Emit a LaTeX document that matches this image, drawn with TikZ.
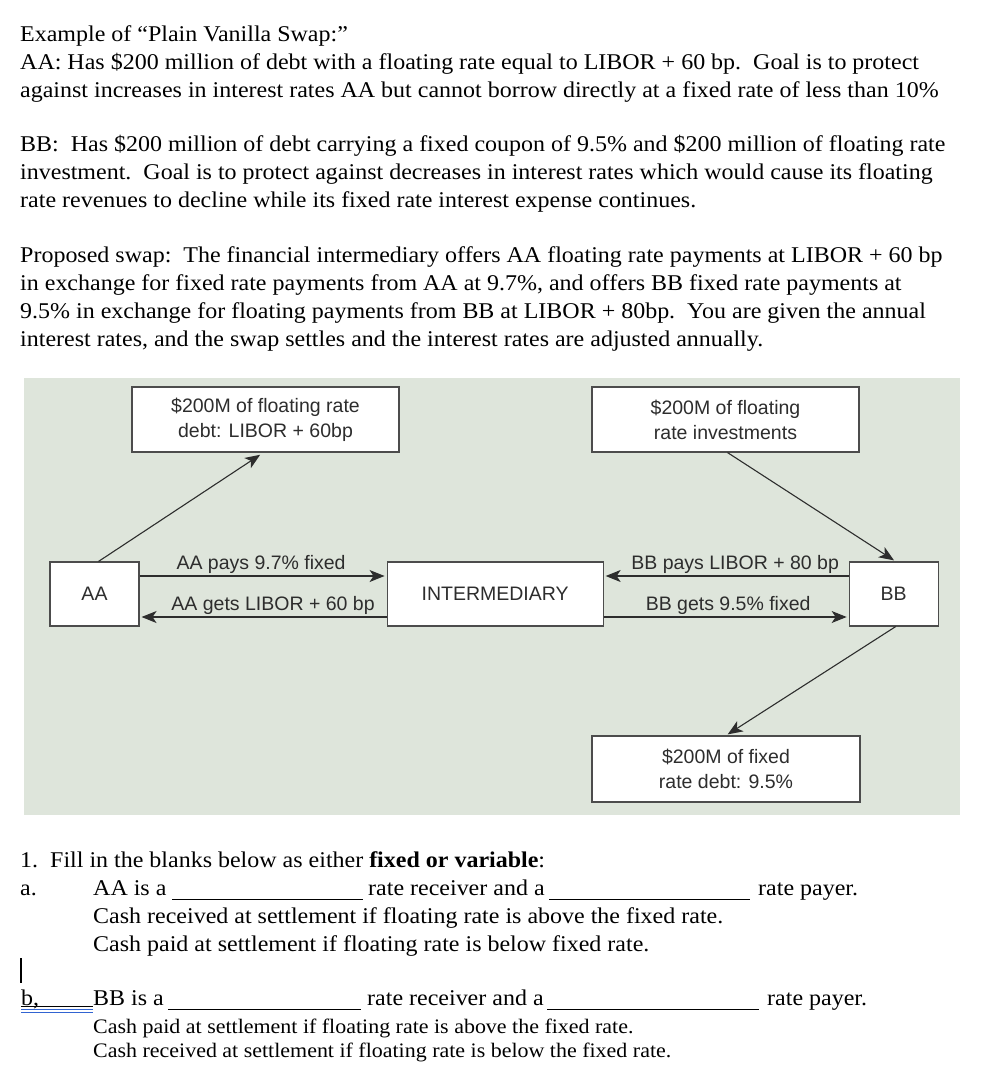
\documentclass[tikz,border=0pt]{standalone}
\usepackage{fontspec}
\setmainfont[FakeStretch=1.066]{Liberation Serif}
\newfontfamily\diagfont{Liberation Sans}
\usepackage{tikz}
\usetikzlibrary{arrows.meta,positioning}
\definecolor{swpbg}{RGB}{222,229,219}
\definecolor{swpline}{RGB}{45,45,45}
\definecolor{swpblue}{RGB}{50,100,210}

\begin{document}
\begin{tikzpicture}[x=1pt,y=-1pt,
    para/.style={anchor=base west,inner sep=0pt,align=left,font=\fontsize{22.5}{28}\selectfont},
    qtext/.style={anchor=base west,inner sep=0pt,font=\fontsize{22.5}{28}\selectfont},
    smalltext/.style={anchor=base west,inner sep=0pt,align=left,font=\fontsize{20.6}{24}\selectfont},
    box/.style={draw=swpline!85,fill=white,line width=1.1pt,inner sep=2pt,align=center,
      font=\diagfont\fontsize{19.5}{25}\selectfont,text=swpline},
    lbl/.style={font=\diagfont\fontsize{19.5}{24}\selectfont,text=swpline,inner sep=2pt},
    arr/.style={-{Stealth[length=15pt,width=12pt,inset=4pt]},swpline,line width=1.1pt,shorten >=2pt}]
  \useasboundingbox (0,0) rectangle (996,1082);

  % text above the diagram (anchored at the last baseline)
  \node[para] (intro) at (20,97) {Example of “Plain Vanilla Swap:”\\
    AA: Has \$200 million of debt with a floating rate equal to LIBOR + 60 bp.\ \ Goal is to protect\\
    against increases in interest rates AA but cannot borrow directly at a fixed rate of less than 10\%};
  \node[para] (bbtext) at (20,207) {BB:\ \ Has \$200 million of debt carrying a fixed coupon of 9.5\% and \$200 million of floating rate\\
    investment.\ \ Goal is to protect against decreases in interest rates which would cause its floating\\
    rate revenues to decline while its fixed rate interest expense continues.};
  \node[para] (proposal) at (20,346) {Proposed swap:\ \ The financial intermediary offers AA floating rate payments at LIBOR + 60 bp\\
    in exchange for fixed rate payments from AA at 9.7\%, and offers BB fixed rate payments at\\
    9.5\% in exchange for floating payments from BB at LIBOR + 80bp.\ \ You are given the annual\\
    interest rates, and the swap settles and the interest rates are adjusted annually.};

  % swap diagram
  \fill[swpbg] (24,378) rectangle (960,815);
  \node[box,minimum width=89pt,minimum height=64pt] (aa) at (94.5,594) {AA};
  \node[box,minimum width=216pt,minimum height=64pt,right=247pt of aa] (mid) {INTERMEDIARY};
  \node[box,minimum width=89pt,minimum height=64pt,right=245pt of mid] (bb) {BB};
  \node[box,minimum width=267pt,minimum height=65pt] (fltdebt) at (265.5,419.5) {\$200M of floating rate\\debt: LIBOR + 60bp};
  \node[box,minimum width=267pt,minimum height=65pt] (fltinv) at (725.5,419.5) {\$200M of floating\\rate investments};
  \node[box,minimum width=268pt,minimum height=66pt] (fixdebt) at (726,769) {\$200M of fixed\\rate debt: 9.5\%};

  \draw[arr,shorten >=4pt] ([xshift=4pt]aa.north) -- ([xshift=-2pt]fltdebt.south);
  \draw[arr] ([xshift=2pt]fltinv.south) -- ([xshift=2pt]bb.north);
  \draw[arr] ([xshift=2pt]bb.south) -- (fixdebt.north);
  \draw[arr] ([yshift=18pt]aa.east) -- node[lbl,above,xshift=-2pt] (aapays) {AA pays 9.7\% fixed} ([yshift=18pt]mid.west);
  \draw[arr] ([yshift=-23pt]mid.west) -- node[lbl,above,xshift=10pt] (aagets) {AA gets LIBOR + 60 bp} ([yshift=-23pt]aa.east);
  \draw[arr] ([yshift=18pt]bb.west) -- node[lbl,above,xshift=9pt] (bbpays) {BB pays LIBOR + 80 bp} ([yshift=18pt]mid.east);
  \draw[arr] ([yshift=-23pt]mid.east) -- node[lbl,above,xshift=2pt] (bbgets) {BB gets 9.5\% fixed} ([yshift=-23pt]bb.west);

  % question 1
  \node[qtext] (qone) at (20,867) {1.\ \ Fill in the blanks below as either \textbf{fixed or variable}:};
  \node[qtext] (qa) at (20,895) {a.};
  \node[qtext] (qaaa) at (93,895) {AA is a};
  \node[qtext] (qablanka) at (172,895) {\rule[-5pt]{191pt}{1.1pt}};
  \node[qtext] (qarecv) at (368,895) {rate receiver and a};
  \node[qtext] (qablankb) at (549,895) {\rule[-5pt]{201pt}{1.1pt}};
  \node[qtext] (qapay) at (758,895) {rate payer.};
  \node[para] (qacash) at (93,951) {Cash received at settlement if floating rate is above the fixed rate.\\
    Cash paid at settlement if floating rate is below fixed rate.};

  \draw[line width=1.3pt] (21,958) -- (21,983);

  \node[qtext] (qb) at (21,1005) {b,};
  \draw[line width=0.8pt] (21,1006.5) -- (93,1006.5);
  \draw[swpblue,line width=1pt] (21,1009.5) -- (93,1009.5) (21,1012) -- (93,1012);
  \node[qtext] (qbbb) at (93,1005) {BB is a};
  \node[qtext] (qbblanka) at (168,1005) {\rule[-5pt]{193pt}{1.1pt}};
  \node[qtext] (qbrecv) at (367,1005) {rate receiver and a};
  \node[qtext] (qbblankb) at (547,1005) {\rule[-5pt]{212pt}{1.1pt}};
  \node[qtext] (qbpay) at (767,1005) {rate payer.};
  \node[smalltext] (qbcash) at (93,1057) {Cash paid at settlement if floating rate is above the fixed rate.\\
    Cash received at settlement if floating rate is below the fixed rate.};
\end{tikzpicture}
\end{document}
